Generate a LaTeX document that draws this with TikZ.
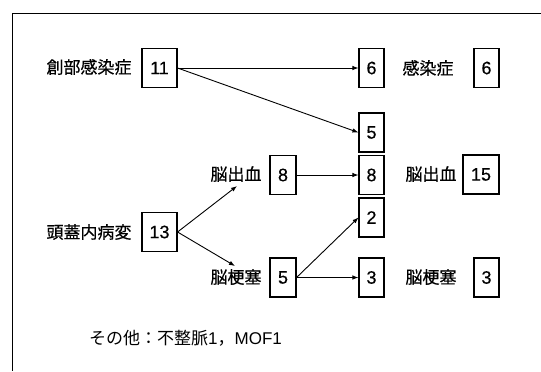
\documentclass[tikz,border=0pt]{standalone}
\usepackage{fontspec}
\setmainfont{Liberation Sans}
\newfontfamily\jp{Noto Sans CJK JP}[FakeBold=0.5]
\newfontfamily\jpr{Noto Sans CJK JP}
\newfontfamily\num{Liberation Sans}[FakeBold=0.4]
\usetikzlibrary{arrows.meta}
\tikzset{
  numbox/.style={draw, line width=1.1bp, inner sep=0pt, minimum height=39bp, font=\num\fontsize{18bp}{18bp}\selectfont},
  w1/.style={minimum width=25bp},
  w2/.style={minimum width=35bp},
  lbl/.style={inner sep=1bp, font=\jp\fontsize{17bp}{17bp}\selectfont},
  note/.style={inner sep=1bp, font=\jpr\fontsize{17bp}{17bp}\selectfont},
  arr/.style={line width=0.9bp, -{Latex[length=6bp,width=4.5bp]}},
  frame/.style={line width=1bp}
}
\begin{document}
\begin{tikzpicture}[x=1bp,y=-1bp]
\useasboundingbox (0,0) rectangle (541,371);
\fill[white] (0,0) rectangle (541,371);
% frame
\coordinate (fa) at (541,13);
\coordinate (fb) at (12,13);
\coordinate (fc) at (12,371);
\draw[frame] (fa) -- (fb) -- (fc);
% boxes
\node[numbox,w2] (b11) at (159.5,68) {11};
\node[numbox,w1] (b6m) at (371.5,68) {6};
\node[numbox,w1] (b6r) at (486.5,68) {6};
\node[numbox,w1] (b5m) at (371.5,132.5) {5};
\node[numbox,w1] (b8m) at (371.5,175) {8};
\node[numbox,w1] (b2m) at (371.5,217.5) {2};
\node[numbox,w1,minimum width=26bp] (b8l) at (283,175) {8};
\node[numbox,w2,minimum width=36bp] (b15) at (481,174.5) {15};
\node[numbox,w2] (b13) at (159.5,232) {13};
\node[numbox,w1,minimum width=26bp] (b5l) at (283,277.5) {5};
\node[numbox,w1] (b3m) at (371.5,277.5) {3};
\node[numbox,w1] (b3r) at (486.5,277.5) {3};
% labels
\node[lbl] (l1) at (89,67) {創部感染症};
\node[lbl] (l2) at (428,68) {感染症};
\node[lbl] (l3) at (236,174) {脳出血};
\node[lbl] (l4) at (431,174) {脳出血};
\node[lbl] (l5) at (89,232) {頭蓋内病変};
\node[lbl] (l6) at (236,277) {脳梗塞};
\node[lbl] (l7) at (431,277) {脳梗塞};
\node[note, anchor=west] (l8) at (88,338) {その他：不整脈{\rmfamily 1}，{\rmfamily MOF1}};
% connector ends
\coordinate (hlT) at (237,186);
\coordinate (ciT) at (235,266);
% arrows
\draw[arr] (b11.east) -- (b6m.west);
\draw[arr] (b11.east) -- (b5m.west);
\draw[arr] (b13.east) -- (hlT);
\draw[arr] (b13.east) -- (ciT);
\draw[arr] (b8l.east) -- (b8m.west);
\draw[arr] (b5l.east) -- (b2m.west);
\draw[arr] (b5l.east) -- (b3m.west);
\end{tikzpicture}
\end{document}
